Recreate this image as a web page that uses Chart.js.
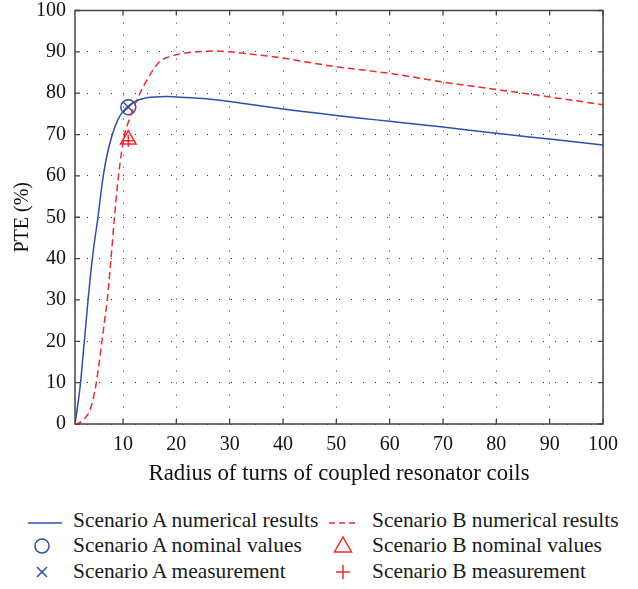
<!DOCTYPE html>
<html>
<head>
<meta charset="utf-8">
<title>PTE vs radius of turns</title>
<script src="https://cdn.jsdelivr.net/npm/chart.js@4.4.1/dist/chart.umd.min.js"></script>
<style>
  body { margin: 0; background: #fff; }
  #wrap { position: relative; width: 638px; height: 589px; font-family: "Liberation Serif", "DejaVu Serif", serif; }
  #plot { position: absolute; left: 0; top: 0; width: 638px; height: 500px; }
  .leg { position: absolute; font-size: 21.4px; line-height: 21px; color: #1a1a1a; white-space: nowrap; }
  .sym { position: absolute; }
</style>
</head>
<body>
<div id="wrap">
  <div id="plot"><canvas id="pteChart"></canvas></div>
  <div id="legend"></div>
</div>
<script>
// data
const radiusA = [1, 1.4, 2, 2.75, 3.45, 4.25, 5.3, 6.3, 7, 8, 9, 10, 11, 12, 13, 14, 16, 18, 20, 25, 30, 35, 40, 45, 50, 55, 60, 70, 80, 90, 100];
const pteA    = [0, 3.5, 9.5, 20, 30, 40, 50, 60, 65, 70, 73.5, 75.6, 76.9, 77.8, 78.4, 78.8, 79.1, 79.2, 79.1, 78.7, 78.0, 77.1, 76.2, 75.4, 74.6, 73.9, 73.2, 71.8, 70.3, 68.9, 67.5];

const radiusB = [1, 2, 3, 3.75, 4.4, 5, 5.5, 6.05, 6.6, 7.05, 7.75, 8.4, 9.15, 10.3, 11, 12.5, 14.4, 16.9, 18, 20, 22, 25, 27, 30, 35, 40, 45, 50, 55, 60, 70, 80, 90, 100];
const pteB    = [0, 0.4, 1.6, 3.2, 6, 10, 14.5, 20, 25.5, 30, 40, 50, 60, 70, 73, 78, 83, 87.7, 88.5, 89.3, 89.8, 90.1, 90.2, 90.0, 89.3, 88.5, 87.4, 86.4, 85.6, 84.8, 82.7, 80.9, 79.1, 77.2];

const markerRadius = [11];
const nominalA  = [76.6];
const measuredA = [76.6];
const nominalB  = [68.8];
const measuredB = [68.5];

const xTicks = [10, 20, 30, 40, 50, 60, 70, 80, 90, 100];
const yTicks = [0, 10, 20, 30, 40, 50, 60, 70, 80, 90, 100];

const legendLabels = [
  'Scenario A numerical results', 'Scenario B numerical results',
  'Scenario A nominal values', 'Scenario B nominal values',
  'Scenario A measurement', 'Scenario B measurement'
];

const BLUE = '#2f4fa6';
const RED = '#ee2a2e';
const FONT = '"Liberation Serif", "DejaVu Serif", serif';

function pts(xs, ys) {
  return xs.map((x, i) => ({ x: x, y: ys[i] }));
}

// box around the plot + ticks pointing inwards on all four sides
const framePlugin = {
  id: 'frame',
  beforeDatasetsDraw(chart) {
    const { ctx, chartArea: a, scales } = chart;
    ctx.save();
    ctx.strokeStyle = '#444';
    ctx.lineWidth = 1.5;
    ctx.strokeRect(a.left, a.top, a.right - a.left, a.bottom - a.top);
    ctx.lineWidth = 1.3;
    ctx.beginPath();
    xTicks.forEach(v => {
      const px = scales.x.getPixelForValue(v);
      ctx.moveTo(px, a.bottom); ctx.lineTo(px, a.bottom - 5);
      ctx.moveTo(px, a.top); ctx.lineTo(px, a.top + 5);
    });
    yTicks.forEach(v => {
      const py = scales.y.getPixelForValue(v);
      ctx.moveTo(a.left, py); ctx.lineTo(a.left + 5, py);
      ctx.moveTo(a.right, py); ctx.lineTo(a.right - 5, py);
    });
    ctx.stroke();
    ctx.restore();
  }
};

new Chart(document.getElementById('pteChart'), {
  type: 'line',
  data: {
    datasets: [
      {
        label: legendLabels[0], data: pts(radiusA, pteA),
        borderColor: BLUE, borderWidth: 1.5, pointRadius: 0,
        cubicInterpolationMode: 'monotone', fill: false
      },
      {
        label: legendLabels[1], data: pts(radiusB, pteB),
        borderColor: RED, borderWidth: 1.5, borderDash: [7, 4], pointRadius: 0,
        cubicInterpolationMode: 'monotone', fill: false
      },
      {
        label: legendLabels[2], data: pts(markerRadius, nominalA), showLine: false,
        pointStyle: 'circle', pointRadius: 7.5, borderColor: BLUE, borderWidth: 1.5,
        backgroundColor: 'rgba(0,0,0,0)'
      },
      {
        label: legendLabels[3], data: pts(markerRadius, nominalB), showLine: false,
        pointStyle: 'triangle', pointRadius: 9, borderColor: RED, borderWidth: 1.5,
        backgroundColor: 'rgba(0,0,0,0)'
      },
      {
        label: legendLabels[4], data: pts(markerRadius, measuredA), showLine: false,
        pointStyle: 'crossRot', pointRadius: 7.5, borderColor: BLUE, borderWidth: 1.5
      },
      {
        label: legendLabels[5], data: pts(markerRadius, measuredB), showLine: false,
        pointStyle: 'cross', pointRadius: 6, borderColor: RED, borderWidth: 1.5
      }
    ]
  },
  options: {
    responsive: true,
    maintainAspectRatio: false,
    animation: false,
    layout: { padding: { top: 9, right: 35, left: 0, bottom: 0 } },
    plugins: { legend: { display: false }, tooltip: { enabled: false } },
    scales: {
      x: {
        type: 'linear', min: 1, max: 100,
        afterBuildTicks: s => { s.ticks = xTicks.map(v => ({ value: v })); },
        afterFit: s => { s.height = 76; },
        grid: { color: '#333', lineWidth: 1, drawTicks: false },
        border: { display: false, dash: [1, 11] },
        ticks: { color: '#111', padding: 9, font: { family: FONT, size: 20 } },
        title: {
          display: true, text: 'Radius of turns of coupled resonator coils',
          color: '#111', font: { family: FONT, size: 22.8 }, padding: { top: 0, bottom: 12 }
        }
      },
      y: {
        type: 'linear', min: 0, max: 100,
        afterBuildTicks: s => { s.ticks = yTicks.map(v => ({ value: v })); },
        afterFit: s => { s.width = 75; s.paddingTop = 0; s.paddingBottom = 0; },
        grid: { color: '#333', lineWidth: 1, drawTicks: false },
        border: { display: false, dash: [1, 11] },
        ticks: { color: '#111', padding: 9, font: { family: FONT, size: 20 } },
        title: {
          display: true, text: 'PTE (%)',
          color: '#111', font: { family: FONT, size: 20 }, padding: { top: 11, bottom: 0 }
        }
      }
    }
  },
  plugins: [framePlugin]
});

// legend below the plot, two columns
const symbols = [
  `<svg width="36" height="12"><line x1="1" y1="6" x2="35" y2="6" stroke="${BLUE}" stroke-width="1.5"/></svg>`,
  `<svg width="28" height="12"><line x1="0" y1="6" x2="28" y2="6" stroke="${RED}" stroke-width="1.5" stroke-dasharray="6 4"/></svg>`,
  `<svg width="18" height="18"><circle cx="9" cy="9" r="7" fill="none" stroke="${BLUE}" stroke-width="1.5"/></svg>`,
  `<svg width="22" height="20"><polygon points="11,2 19.5,17 2.5,17" fill="none" stroke="${RED}" stroke-width="1.5"/></svg>`,
  `<svg width="16" height="16"><path d="M3 3 L13 13 M13 3 L3 13" stroke="${BLUE}" stroke-width="1.5"/></svg>`,
  `<svg width="16" height="16"><path d="M8 1 L8 15 M1 8 L15 8" stroke="${RED}" stroke-width="1.5"/></svg>`
];
const symPos = [[27, 515], [329, 515], [33, 537], [332, 535], [34, 564], [335, 564]];
const textPos = [[73, 510], [372, 510], [73, 535], [372, 535], [73, 561], [372, 561]];
const legend = document.getElementById('legend');
legendLabels.forEach((lab, i) => {
  const s = document.createElement('div');
  s.className = 'sym';
  s.style.left = symPos[i][0] + 'px';
  s.style.top = symPos[i][1] + 'px';
  s.innerHTML = symbols[i];
  legend.appendChild(s);
  const t = document.createElement('div');
  t.className = 'leg';
  t.style.left = textPos[i][0] + 'px';
  t.style.top = textPos[i][1] + 'px';
  t.textContent = lab;
  legend.appendChild(t);
});
</script>
</body>
</html>
